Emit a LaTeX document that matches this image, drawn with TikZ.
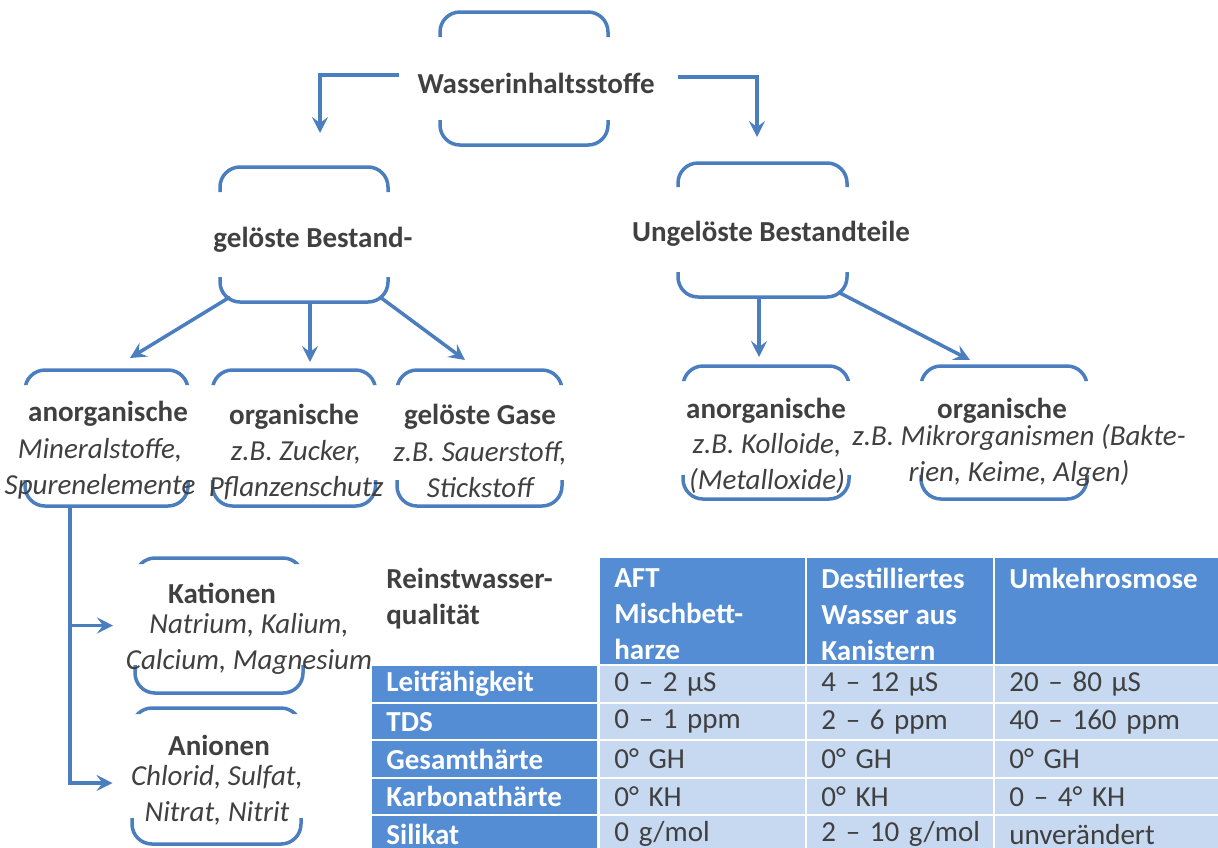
\documentclass[tikz,border=0pt]{standalone}
\usepackage{fontspec}
\setmainfont{Carlito}
\usetikzlibrary{arrows.meta}

\definecolor{linkblue}{RGB}{74,126,190}
\definecolor{headblue}{RGB}{84,141,212}
\definecolor{cellblue}{RGB}{198,217,241}
\definecolor{textgray}{RGB}{64,64,64}

\newdimen\px \px=0.5pt
\newcommand\fsize{\fontsize{14.5pt}{18pt}\selectfont}
\newcommand\gmol{g/mol}
% only the top and the bottom of a rounded box are shown
\newcommand\halfbox[3]{%
  \begin{scope}
    \clip ([xshift=-4pt,yshift=4pt]#1.north west) rectangle ([xshift=4pt,yshift=-#2\px]#1.north east)
          ([xshift=-4pt,yshift=#3\px]#1.south west) rectangle ([xshift=4pt,yshift=-4pt]#1.south east);
    \draw[frameline] (#1.north west) rectangle (#1.south east);
  \end{scope}}

\tikzset{
  bracketbox/.style={inner sep=0pt, outer sep=0pt},
  frameline/.style={draw=linkblue, line width=1.75pt, rounded corners=10pt},
  link/.style={draw=linkblue, line width=1.75pt, -{Stealth[length=8pt,width=8pt,inset=3pt]}},
  boxtitle/.style={font=\fsize\bfseries, text=textgray},
  boxnote/.style={font=\fsize\itshape, text=textgray, align=center},
  headcell/.style={fill=headblue, anchor=north west, minimum height=106\px},
  headtext/.style={font=\fsize\bfseries, text=white, align=left, anchor=north west, inner sep=0pt},
  rowhead/.style={fill=headblue, text=white, font=\fsize\bfseries, anchor=north west,
    align=left, minimum height=35.5\px, inner xsep=14\px, inner ysep=0pt},
  valcell/.style={fill=cellblue, text=textgray, font=\fsize, anchor=north west,
    align=left, minimum height=35.5\px, inner xsep=14\px, inner ysep=0pt}
}

\begin{document}
\begin{tikzpicture}[x=0.5pt, y=-0.5pt]
\useasboundingbox (0,0) rectangle (1218,847);

% boxes
\node[bracketbox, minimum width=168\px, minimum height=133\px] (root) at (524,78.5) {};
\node[bracketbox, minimum width=168\px, minimum height=135\px] (solved) at (304,234.5) {};
\node[bracketbox, minimum width=169\px, minimum height=134\px] (unsolved) at (762.5,230) {};
\node[bracketbox, minimum width=163\px, minimum height=136\px] (anorgL) at (106.5,438) {};
\node[bracketbox, minimum width=163\px, minimum height=136\px] (orgL) at (294,438) {};
\node[bracketbox, minimum width=165\px, minimum height=136\px] (gasL) at (479.5,438) {};
\node[bracketbox, minimum width=166\px, minimum height=133\px] (anorgR) at (766,432.5) {};
\node[bracketbox, minimum width=166\px, minimum height=133\px] (orgR) at (1004,432.5) {};
\node[bracketbox, minimum width=168\px, minimum height=135\px] (kation) at (219,625.5) {};
\node[bracketbox, minimum width=169\px, minimum height=136\px] (anion) at (216.5,776) {};

\halfbox{root}{25}{25}
\halfbox{solved}{25}{25}
\halfbox{unsolved}{24}{25}
\halfbox{anorgL}{15}{26}
\halfbox{orgL}{15}{26}
\halfbox{gasL}{15}{26}
\halfbox{anorgR}{15}{24}
\halfbox{orgR}{15}{24}
\halfbox{kation}{6}{28}
\halfbox{anion}{6}{26}

% labels
\node[boxtitle] (rootlabel) at (536,83) {Wasserinhaltsstoffe};
\node[boxtitle] (solvedlabel) at (313,240) {gelöste Bestand-};
\node[boxtitle] (unsolvedlabel) at (771,234) {Ungelöste Bestandteile};

\node[boxtitle] at (108,414) {anorganische};
\node[boxnote] at (100,469) {Mineralstoffe,\\Spurenelemente};
\node[boxtitle] at (294,417) {organische};
\node[boxnote] at (296,470) {z.B. Zucker,\\Pflanzenschutz};
\node[boxtitle] at (480,417) {gelöste Gase};
\node[boxnote] at (480,470) {z.B. Sauerstoff,\\Stickstoff};

\node[boxtitle] at (766,411) {anorganische};
\node[boxnote] at (767,463) {z.B. Kolloide,\\(Metalloxide)};
\node[boxtitle] at (1002,411) {organische};
\node[boxnote] at (1019,455) {z.B. Mikrorganismen (Bakte-\\rien, Keime, Algen)};

\node[boxtitle] at (222,593) {Kationen};
\node[boxnote] at (249,644) {Natrium, Kalium,\\Calcium, Magnesium};
\node[boxtitle] at (219,745) {Anionen};
\node[boxnote] at (217,795) {Chlorid, Sulfat,\\Nitrat, Nitrit};

% arrows
\draw[link, shorten <=11\px, shorten >=34\px] ([yshift=8\px]rootlabel.west) -| ([xshift=16\px]solved.north);
\draw[link, shorten <=16\px, shorten >=26\px] ([yshift=6\px]rootlabel.east) -| ([xshift=-5.5\px]unsolved.north);

\draw[link] ([xshift=10\px,yshift=5\px]solved.south west) -- ([xshift=23.5\px,yshift=12\px]anorgL.north);
\draw[link] ([xshift=6\px]solved.south) -- ([xshift=16\px,yshift=8\px]orgL.north);
\draw[link] ([xshift=-8\px,yshift=5\px]solved.south east) -- ([xshift=-14.5\px,yshift=10\px]gasL.north);

\draw[link] ([xshift=-3.5\px]unsolved.south) -- ([xshift=-7\px,yshift=9\px]anorgR.north);
\draw[link] ([xshift=-9\px,yshift=5\px]unsolved.south east) -- ([xshift=-34\px,yshift=6\px]orgR.north);

\draw[link] ([xshift=-36.5\px]anorgL.south) |- ([xshift=-22\px]kation.west);
\draw[link] ([xshift=-36.5\px]anorgL.south) |- ([xshift=-19.5\px,yshift=-7\px]anion.west);

% table
\node[headtext, text=textgray] (quality) at (386,568) {Reinstwasser-\\qualität};
\node[headcell, minimum width=205\px] (hAFT) at (600,558) {};
\node[headcell, minimum width=186\px] (hDest) at (807,558) {};
\node[headcell, minimum width=223\px] (hUmk) at (995,558) {};
\node[headtext] at ([xshift=14\px,yshift=-10\px]hAFT.north west) {AFT\\Mischbett-\\harze};
\node[headtext] at ([xshift=14\px,yshift=-10\px]hDest.north west) {Destilliertes\\Wasser aus\\Kanistern};
\node[headtext] at ([xshift=14\px,yshift=-10\px]hUmk.north west) {Umkehrosmose};

\foreach \name/\aft/\dest/\umk [count=\r from 0] in {
    Leitfähigkeit/0 – 2 µS/4 – 12 µS/20 – 80 µS,
    TDS/0 – 1 ppm/2 – 6 ppm/40 – 160 ppm,
    Gesamthärte/0° GH/0° GH/0° GH,
    Karbonathärte/0° KH/0° KH/0 – 4° KH,
    Silikat/0 \gmol/2 – 10 \gmol/unverändert} {
  \node[rowhead, text width=98.5pt] (row\r) at (372,666+37.5*\r) {\name};
  \node[valcell, text width=88.5pt] (aft\r) at (600,666+37.5*\r) {\aft};
  \node[valcell, text width=79pt] (dest\r) at (807,666+37.5*\r) {\dest};
  \node[valcell, text width=97.5pt] (umk\r) at (995,666+37.5*\r) {\umk};
}
\end{tikzpicture}
\end{document}
